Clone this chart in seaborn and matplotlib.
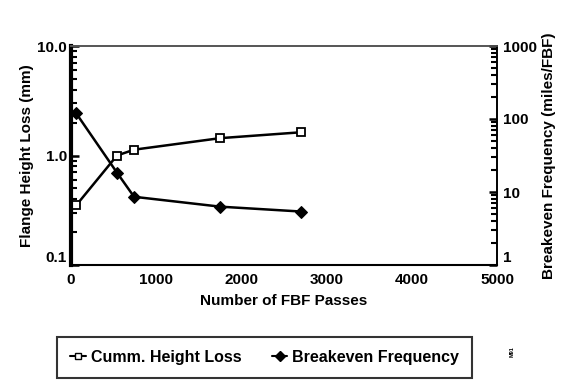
import matplotlib
matplotlib.use("Agg")
import matplotlib.pyplot as plt
import seaborn as sns
import pandas as pd
from matplotlib.ticker import FixedLocator, LogLocator, NullFormatter
from matplotlib.lines import Line2D

sns.set_theme(style="white")
plt.rcParams['font.family'] = ['Liberation Sans', 'DejaVu Sans']
plt.rcParams['font.weight'] = 'bold'
for k in ("text.color", "axes.labelcolor", "xtick.color", "ytick.color"):
    plt.rcParams[k] = "black"

passes = [60, 540, 740, 1750, 2700]
height_loss = [0.35, 1.0, 1.13, 1.44, 1.63]
breakeven = [120, 18.4, 8.6, 6.3, 5.4]

x_ticks = [0, 1000, 2000, 3000, 4000, 5000]
x_labels = ["0", "1000", "2000", "3000", "4000", "5000"]
left_ticks = [0.1, 1.0, 10.0]
left_labels = ["0.1", "1.0", "10.0"]
right_ticks = [1, 10, 100, 1000]
right_labels = ["1", "10", "100", "1000"]

df1 = pd.DataFrame({"x": passes, "y": height_loss})
df2 = pd.DataFrame({"x": passes, "y": breakeven})

fig = plt.figure(figsize=(5.8, 3.87), dpi=100)
ax = fig.add_axes([71/580, 1-265/387, (497-71)/580, (265-46)/387])
ax2 = ax.twinx()

sns.lineplot(data=df1, x="x", y="y", ax=ax, color="black", lw=1.8,
             marker="s", markersize=6, markerfacecolor="white",
             markeredgecolor="black", markeredgewidth=1.3)
sns.lineplot(data=df2, x="x", y="y", ax=ax2, color="black", lw=1.8,
             marker="D", markersize=6, markerfacecolor="black",
             markeredgecolor="black")

ax.set_yscale("log")
ax2.set_yscale("log")
ax.set_xlim(0, 5000)
ax.set_ylim(0.1, 10)
ax2.set_ylim(1, 1000)

ax.set_xticks(x_ticks)
ax.set_xticklabels(x_labels, fontsize=11, fontweight="bold")
ax.yaxis.set_major_locator(FixedLocator(left_ticks))
ax.set_yticklabels(left_labels, fontsize=11, fontweight="bold")
ax.yaxis.set_minor_locator(LogLocator(base=10, subs=range(2, 10)))
ax.yaxis.set_minor_formatter(NullFormatter())
ax2.yaxis.set_major_locator(FixedLocator(right_ticks))
ax2.set_yticklabels(right_labels, fontsize=11, fontweight="bold")
ax2.yaxis.set_minor_locator(LogLocator(base=10, subs=range(2, 10)))
ax2.yaxis.set_minor_formatter(NullFormatter())

ax.tick_params(axis="x", direction="in", length=6, width=1.5, pad=6)
ax.tick_params(axis="y", which="major", direction="in", length=6, width=1.8, left=True, pad=3)
ax.tick_params(axis="y", which="minor", direction="in", length=4, width=1.5, left=True)
ax2.tick_params(axis="y", which="major", direction="in", length=6, width=1.8, right=True, pad=4)
ax2.tick_params(axis="y", which="minor", direction="in", length=4, width=1.5, right=True)
# nudge the bottom right label up a little so it sits just above "5000"
ax2.get_yticklabels()[0].set_va("bottom")
ax.get_yticklabels()[0].set_va("bottom")

for a in (ax, ax2):
    for s in a.spines.values():
        s.set_color("black")
        s.set_linewidth(1.2)
    a.spines["top"].set_color("#555555")
ax.spines["left"].set_linewidth(3)
ax.spines["bottom"].set_linewidth(1.5)
ax2.spines["left"].set_visible(False)

ax.set_xlabel("Number of FBF Passes", fontsize=11, fontweight="bold", labelpad=5)
ax.set_ylabel("Flange Height Loss (mm)", fontsize=11, fontweight="bold", labelpad=2)
ax2.set_ylabel("Breakeven Frequency (miles/FBF)", fontsize=11, fontweight="bold", labelpad=4)

handles = [
    Line2D([0], [0], color="black", lw=1.5, marker="s", markersize=5,
           markerfacecolor="white", markeredgecolor="black"),
    Line2D([0], [0], color="black", lw=1.5, marker="D", markersize=5,
           markerfacecolor="black"),
]
leg = fig.legend(handles, ["Cumm. Height Loss", "Breakeven Frequency"],
                 loc="upper left", bbox_to_anchor=(57/580, 1-337/387),
                 ncol=2, frameon=True, fancybox=False,
                 handlelength=1.0, handletextpad=0.3, columnspacing=1.9,
                 borderpad=0.8, borderaxespad=0,
                 prop={"weight": "bold", "size": 11.5})
leg.get_frame().set_edgecolor("black")
leg.get_frame().set_linewidth(1.5)

fig.text(512/580, 1-352/387, "M91", fontsize=4, rotation=90, ha="center", va="center")

fig.savefig("out.png", dpi=100)
